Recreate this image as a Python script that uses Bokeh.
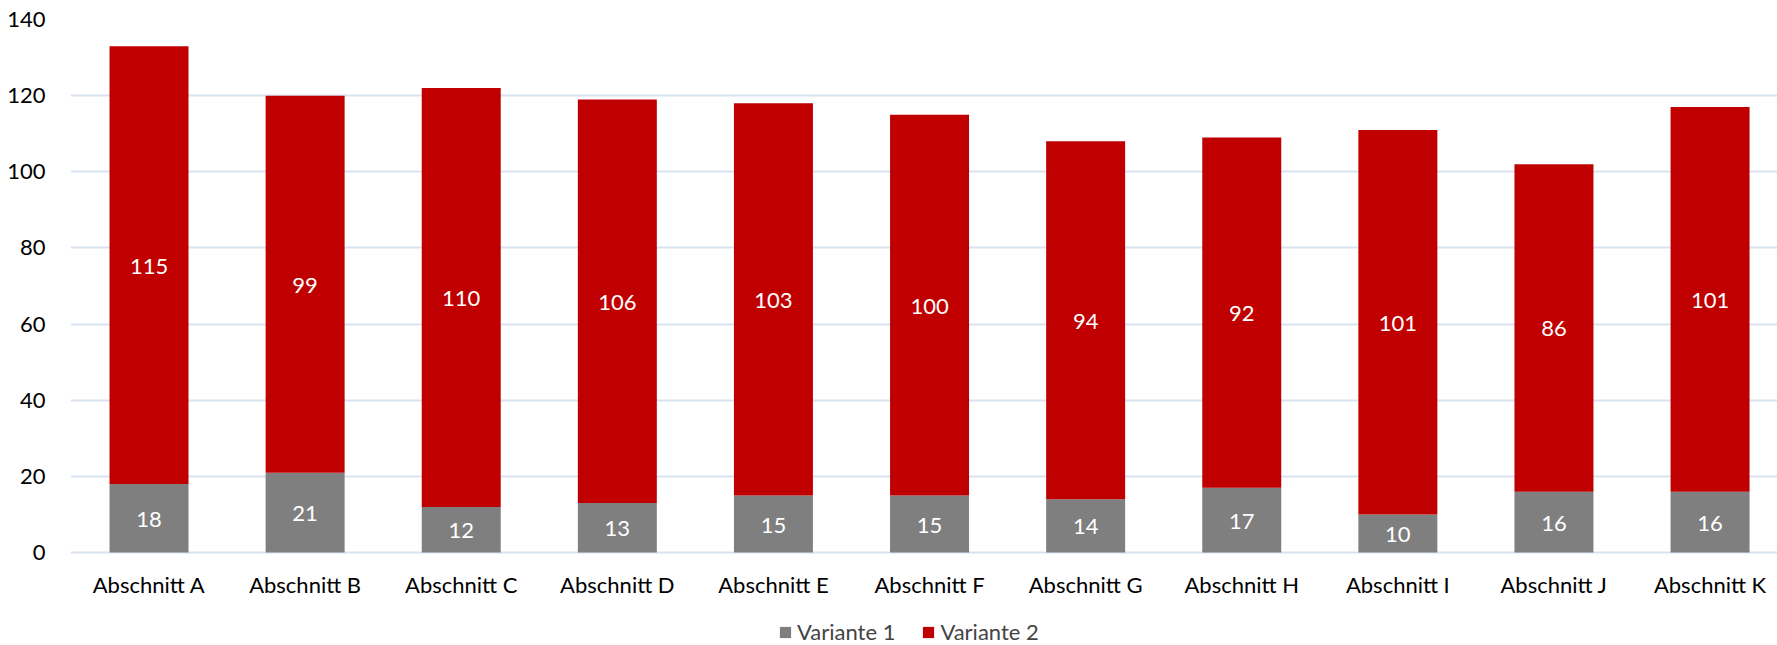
from bokeh.plotting import figure
from bokeh.models import Legend, LegendItem, ColumnDataSource, FixedTicker, Range1d
from bokeh.core.properties import value
from bokeh.embed import file_html
from bokeh.resources import INLINE

categories = ["Abschnitt A", "Abschnitt B", "Abschnitt C", "Abschnitt D", "Abschnitt E",
              "Abschnitt F", "Abschnitt G", "Abschnitt H", "Abschnitt I", "Abschnitt J", "Abschnitt K"]
variante1 = [18, 21, 12, 13, 15, 15, 14, 17, 10, 16, 16]
variante2 = [115, 99, 110, 106, 103, 100, 94, 92, 101, 86, 101]
y_ticks = [0, 20, 40, 60, 80, 100, 120, 140]

FONT = "Lato"
FS = "22px"
GRAY = "#7F7F7F"
RED = "#C00000"

xs = list(range(len(categories)))
tops = [a + b for a, b in zip(variante1, variante2)]
src = ColumnDataSource(dict(
    x=xs, v1=variante1, v2=variante2, top=tops,
    zero=[0] * len(xs),
    y1=[a / 2 for a in variante1],
    y2=[a + b / 2 for a, b in zip(variante1, variante2)],
    t1=[str(a) for a in variante1],
    t2=[str(b) for b in variante2],
    cat=categories,
))

p = figure(width=1777, height=645, output_backend="svg", toolbar_location=None,
           x_range=Range1d(-0.503, 10.432), y_range=Range1d(-24.4, 140),
           min_border_left=70, min_border_right=0, min_border_top=19, min_border_bottom=0)
p.outline_line_color = None
p.background_fill_color = "white"

r1 = p.vbar(x="x", width=0.506, bottom="zero", top="v1", source=src,
            fill_color=GRAY, line_color=None)
r2 = p.vbar(x="x", width=0.506, bottom="v1", top="top", source=src,
            fill_color=RED, line_color=None)

p.text(x="x", y="y1", text="t1", source=src, text_color="white",
       text_font=value(FONT), text_font_size=FS, text_align="center",
       text_baseline="middle", y_offset=1)
p.text(x="x", y="y2", text="t2", source=src, text_color="white",
       text_font=value(FONT), text_font_size=FS, text_align="center",
       text_baseline="middle", y_offset=1)

# category labels below the zero line
p.text(x="x", y="zero", text="cat", source=src, text_color="black",
       text_font=value(FONT), text_font_size=FS, text_align="center",
       text_baseline="middle", y_offset=32)

p.xaxis.visible = False
p.yaxis.ticker = FixedTicker(ticks=y_ticks)
ax = p.yaxis[0]
ax.axis_line_color = None
ax.major_tick_line_color = None
ax.minor_tick_line_color = None
ax.major_label_text_font = FONT
ax.major_label_text_font_size = FS
ax.major_label_text_color = "#000000"
ax.major_label_standoff = 19

p.xgrid.grid_line_color = None
p.ygrid.ticker = FixedTicker(ticks=y_ticks)
p.ygrid.grid_line_color = "#D9E2F1"
p.ygrid.grid_line_width = 2

legend = Legend(items=[LegendItem(label="Variante 1", renderers=[r1]),
                       LegendItem(label="Variante 2", renderers=[r2])],
                orientation="horizontal", location=(708, 0),
                label_text_font=FONT, label_text_font_size=FS,
                glyph_width=14, glyph_height=14, label_standoff=5, spacing=26,
                label_height=20,
                border_line_color=None, background_fill_alpha=0,
                padding=0, margin=0)
p.add_layout(legend, "center")

open("out.html", "w").write(file_html(p, INLINE))
